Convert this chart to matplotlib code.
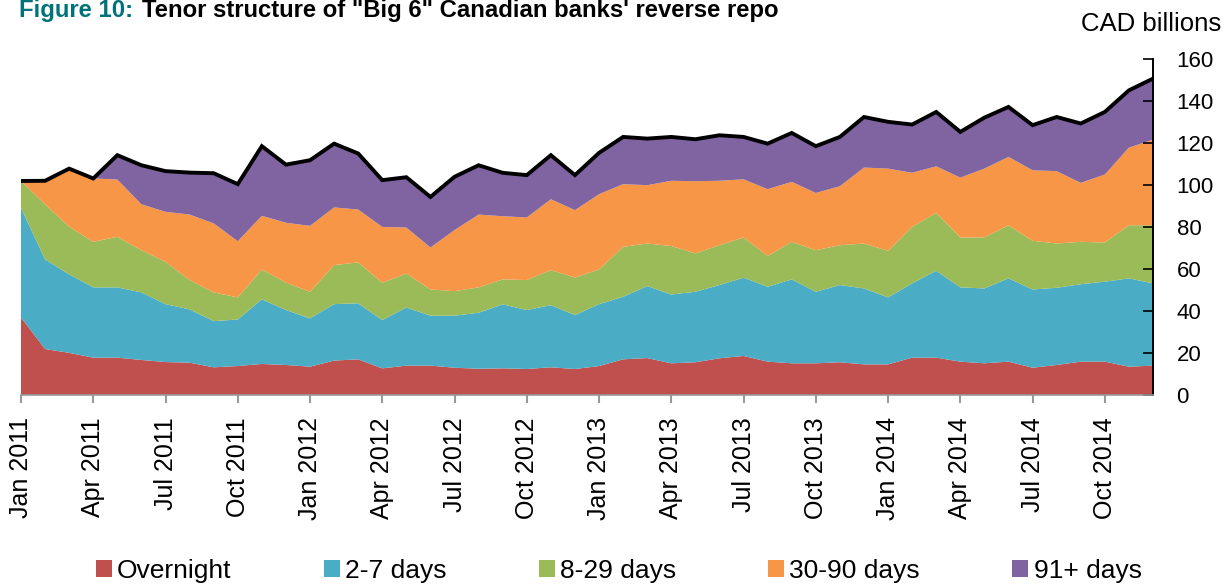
import numpy as np
import matplotlib
matplotlib.use("Agg")
import matplotlib.pyplot as plt
from matplotlib.patches import Patch

plt.rcParams['font.family'] = ['Liberation Sans', 'DejaVu Sans']

# Monthly data, Jan 2011 - Dec 2014 (CAD billions)
months = ["Jan", "Feb", "Mar", "Apr", "May", "Jun",
          "Jul", "Aug", "Sep", "Oct", "Nov", "Dec"]
years = [2011, 2012, 2013, 2014]

overnight = [37.0, 21.9, 20.1, 17.8, 17.8, 16.7, 15.7, 15.4, 13.2, 13.8, 14.8, 14.3,
             13.5, 16.4, 17.0, 12.7, 14.0, 14.0, 13.0, 12.5, 12.7, 12.4, 13.2, 12.4,
             13.8, 17.0, 17.6, 15.1, 15.6, 17.5, 18.6, 15.9, 15.1, 15.1, 15.6, 14.6,
             14.6, 17.8, 17.8, 15.9, 15.1, 15.9, 13.0, 14.3, 15.9, 15.9, 13.5, 14.0]
days_2_7 = [52.2, 42.7, 37.4, 33.5, 33.5, 32.2, 27.6, 25.4, 22.0, 22.2, 30.8, 26.2,
            23.0, 26.9, 26.7, 23.0, 27.7, 23.8, 24.8, 26.7, 30.5, 28.1, 29.6, 25.7,
            29.5, 29.8, 34.3, 32.8, 33.6, 34.9, 37.3, 35.7, 40.0, 34.1, 36.8, 36.2,
            31.9, 35.4, 41.4, 35.4, 35.7, 39.7, 37.3, 36.8, 36.9, 38.1, 42.1, 39.2]
days_8_29 = [12.8, 26.3, 22.7, 21.7, 24.1, 20.1, 20.2, 14.0, 13.7, 10.5, 14.2, 13.1,
             12.7, 18.6, 19.5, 17.8, 16.2, 12.5, 11.7, 12.1, 11.9, 14.3, 16.7, 17.9,
             16.5, 23.8, 20.3, 23.1, 18.3, 19.0, 19.2, 14.7, 17.9, 19.8, 19.0, 21.4,
             22.2, 27.0, 27.6, 23.8, 24.3, 25.3, 23.2, 21.1, 20.2, 18.7, 25.3, 27.7]
days_30_90 = [0.0, 11.2, 27.7, 30.2, 27.3, 21.9, 23.8, 31.2, 32.9, 26.8, 25.6, 28.5,
              31.4, 27.5, 25.2, 26.6, 21.9, 20.0, 29.1, 34.7, 30.1, 29.8, 33.8, 32.1,
              35.9, 29.9, 27.8, 31.1, 34.4, 30.7, 27.7, 31.8, 28.6, 27.3, 28.1, 36.2,
              39.2, 25.7, 22.2, 28.5, 32.8, 32.6, 33.6, 34.5, 28.1, 32.4, 37.0, 40.8]
days_91 = [0.0, 0.0, 0.0, 0.0, 11.6, 18.6, 19.4, 20.0, 23.9, 27.2, 33.2, 27.7,
           31.3, 30.4, 26.7, 22.3, 24.0, 24.1, 25.4, 23.5, 20.7, 20.2, 21.0, 16.7,
           19.7, 22.5, 22.2, 20.9, 20.0, 21.7, 20.2, 21.7, 23.3, 22.3, 23.5, 24.1,
           22.3, 23.0, 25.9, 21.8, 24.3, 23.8, 21.5, 25.8, 28.3, 29.8, 27.3, 29.1]

labels = ["Overnight", "2-7 days", "8-29 days", "30-90 days", "91+ days"]
colors = ["#C0504D", "#4BACC6", "#9BBB59", "#F79646", "#8064A2"]

x = np.arange(len(overnight))
series = np.array([overnight, days_2_7, days_8_29, days_30_90, days_91])
total = series.sum(axis=0)

tick_pos = x[::3]
tick_labels = [f"{months[i % 12]} {years[i // 12]}" for i in tick_pos]

fig = plt.figure(figsize=(12.25, 5.84), dpi=100)
ax = fig.add_axes([21 / 1225, 1 - 395 / 584, (1153 - 21) / 1225, (395 - 59.3) / 584])

ax.stackplot(x, series, colors=colors, linewidth=0)
ax.plot(x, total, color="black", linewidth=2.8, solid_joinstyle="miter")

ax.set_xlim(0, len(x) - 1)
ax.set_ylim(0, 160)
ax.set_yticks(np.arange(0, 161, 20))

ax.yaxis.tick_right()
ax.tick_params(axis="y", direction="in", length=7, width=1.2, colors="black",
               labelsize=16, pad=17)
ax.set_xticks(tick_pos)
ax.set_xticklabels(tick_labels, rotation=90)
ax.tick_params(axis="x", direction="out", length=6, width=1.5, color="#999999",
               labelsize=18, pad=10)

for side in ["top", "left"]:
    ax.spines[side].set_visible(False)
ax.spines["bottom"].set_color("#999999")
ax.spines["bottom"].set_linewidth(1.2)
ax.spines["right"].set_linewidth(1.4)

fig.text(1221 / 1225, 1 - 24 / 584, "CAD billions", ha="right", va="center", fontsize=18.5)

# title in two colours
narrow = ["Liberation Sans Narrow", "Liberation Sans"]
t1 = fig.text(19 / 1225, 1 - 10 / 584, "Figure 10:", color="#00727A", fontsize=17.2,
              fontweight="bold", family=narrow, va="center", ha="left")
fig.canvas.draw()
bb = t1.get_window_extent()
fig.text((bb.x1 + 9) / 1225, 1 - 10 / 584, "Tenor structure of \"Big 6\" Canadian banks' reverse repo",
         color="black", fontsize=17.2, fontweight="bold", family=narrow, va="center", ha="left")

handles = [Patch(facecolor=c, edgecolor="none") for c in colors]
fig.legend(handles, labels, loc="center", bbox_to_anchor=(0.505, 1 - 571 / 584), ncol=5,
           frameon=False, fontsize=19, handlelength=0.6, handleheight=0.6,
           handletextpad=0.2, columnspacing=3.5)

fig.savefig("out.png", dpi=100)
